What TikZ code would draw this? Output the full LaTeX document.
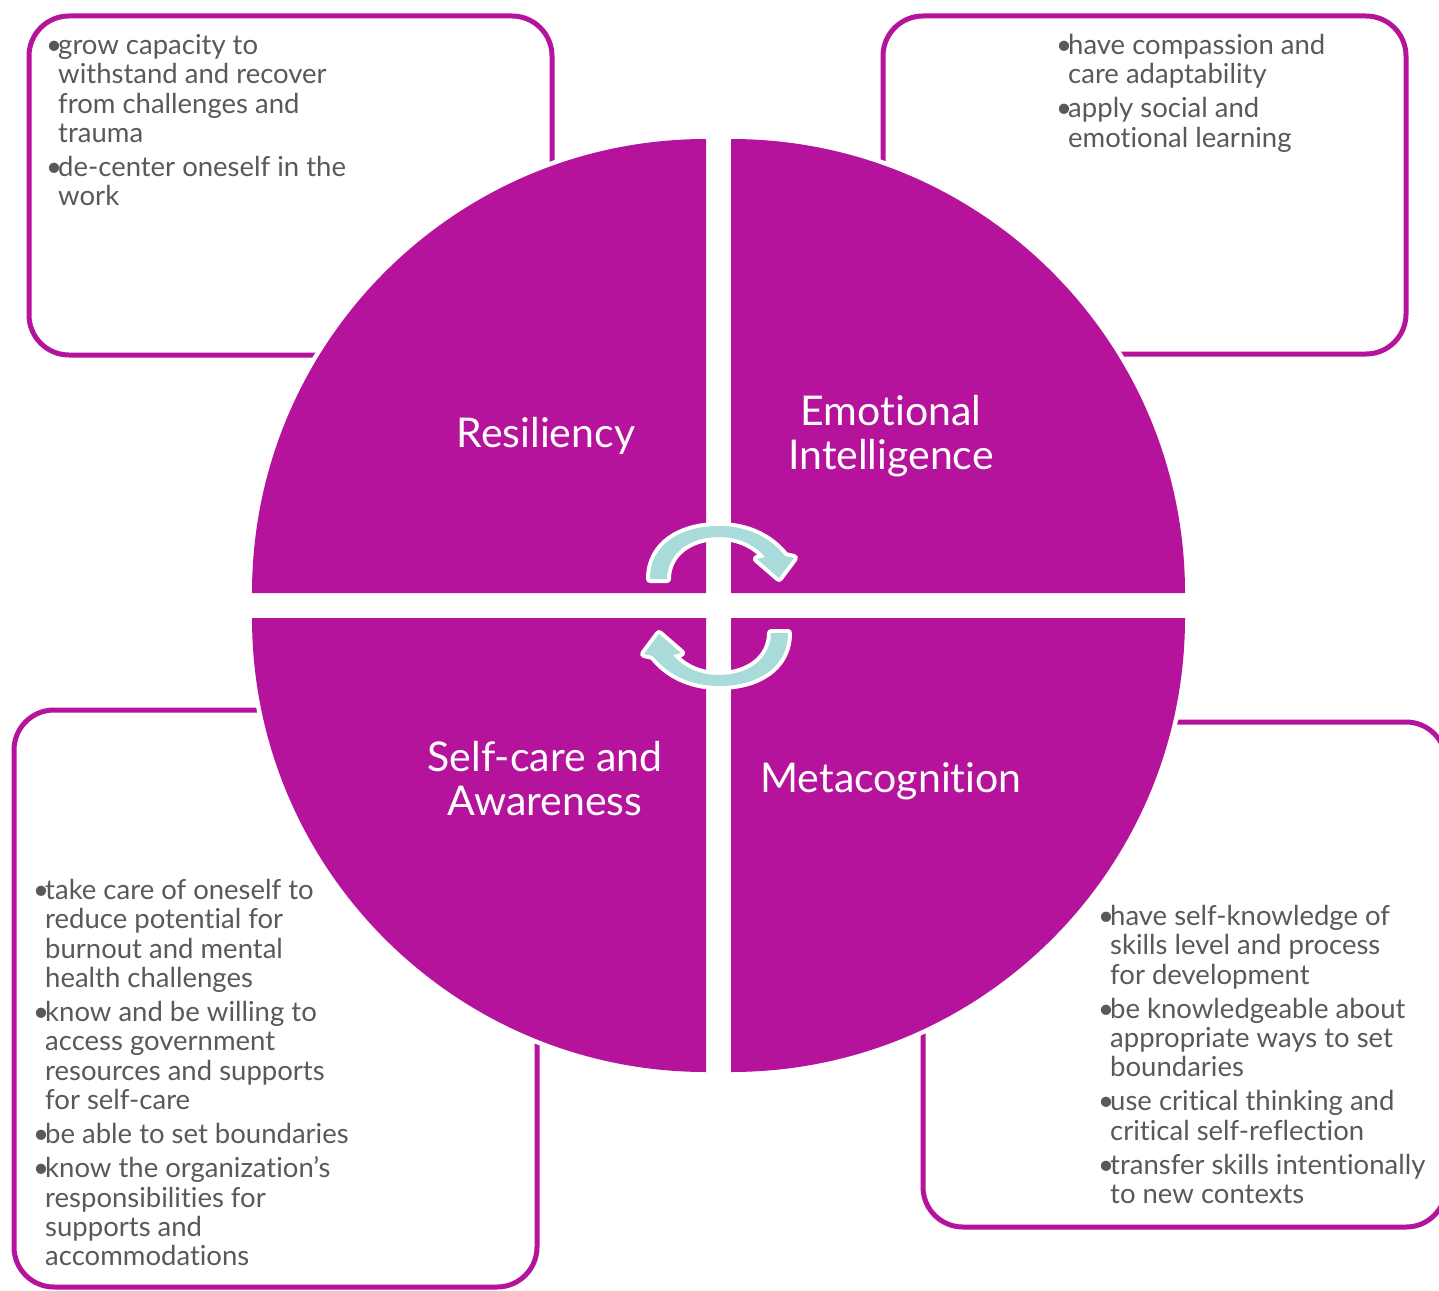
\documentclass[tikz,border=0pt]{standalone}
\usepackage{fontspec}
\setmainfont{Lato}[Ligatures=NoCommon]
\definecolor{petal}{RGB}{181,19,155}
\definecolor{cycleteal}{RGB}{168,219,217}
\definecolor{bodygrey}{RGB}{89,89,89}
\newcommand{\bul}{\makebox[12pt][l]{\textbullet}}
\newcommand{\ind}{\hspace*{12pt}}
\newlength{\itemgap}\setlength{\itemgap}{4.7pt}
\tikzset{
  infobox/.style={draw=petal, line width=5pt, rounded corners=40pt},
  quadcut/.style={draw=white, line width=9pt, fill=white},
  quadfill/.style={fill=petal},
  bodytext/.style={anchor=base west, inner sep=0pt, text=bodygrey,
    font=\fontsize{27.5}{29.3}\selectfont},
  quadlabel/.style={inner sep=0pt, text=white, align=center,
    font=\fontsize{41}{44}\selectfont},
  pics/cyclearrow/.style={code={
    \path[draw=white, line width=8pt, line join=round]
      (-69,-27) .. controls (-69,-62) and (-38,-80) .. (0,-80)
      .. controls (30,-80) and (53,-67) .. (66,-50)
      -- (75,-48) -- (60,-28) -- (38,-47) -- (46,-49)
      .. controls (36,-61) and (20,-69) .. (0,-69)
      .. controls (-30,-69) and (-52,-52) .. (-52,-27) -- cycle;
    \path[fill=cycleteal]
      (-69,-27) .. controls (-69,-62) and (-38,-80) .. (0,-80)
      .. controls (30,-80) and (53,-67) .. (66,-50)
      -- (75,-48) -- (60,-28) -- (38,-47) -- (46,-49)
      .. controls (36,-61) and (20,-69) .. (0,-69)
      .. controls (-30,-69) and (-52,-52) .. (-52,-27) -- cycle;
  }}
}
\begin{document}
\begin{tikzpicture}[x=1pt, y=-1pt]
\useasboundingbox[fill=white] (0,0) rectangle (1439,1290);

% outlined boxes behind the circle
\draw[infobox] (29,16) rectangle (552,355);
\draw[infobox] (883,16) rectangle (1406,354);
\draw[infobox] (14,710) rectangle (537,1287);
\draw[infobox] (923,722) rectangle (1446,1227);

% four quadrants, each with a white rim that breaks the box outlines
\foreach \cx/\cy/\a in {706/593/180, 731/593/270, 731/618/0, 706/618/90}{
  \path[quadcut] (\cx,\cy) -- ++(\a:454) arc[start angle=\a, delta angle=90, radius=454] -- cycle;
}
\foreach \cx/\cy/\a in {706/593/180, 731/593/270, 731/618/0, 706/618/90}{
  \path[quadfill] (\cx,\cy) -- ++(\a:454) arc[start angle=\a, delta angle=90, radius=454] -- cycle;
}

% cycle arrows in the middle
\pic at (719,606) {cyclearrow};
\pic[rotate=180] at (719,606) {cyclearrow};

% quadrant titles
\node[quadlabel] (resiliency) at (546,436) {Resiliency};
\node[quadlabel] (emotional) at (891,436) {Emotional\\Intelligence};
\node[quadlabel] (selfcare) at (545,779) {Self-care and\\Awareness};
\node[quadlabel] (metacog) at (891,781) {Metacognition};

% bullet lists
\node[bodytext] (resText) at (46,54.5) {\begin{tabular}[t]{@{}l@{}}
\bul grow capacity to\\
\ind withstand and recover\\
\ind from challenges and\\
\ind trauma\\[\itemgap]
\bul de-center oneself in the\\
\ind work
\end{tabular}};

\node[bodytext] (emoText) at (1056,54.5) {\begin{tabular}[t]{@{}l@{}}
\bul have compassion and\\
\ind care adaptability\\[\itemgap]
\bul apply social and\\
\ind emotional learning
\end{tabular}};

\node[bodytext] (selfText) at (33,899.5) {\begin{tabular}[t]{@{}l@{}}
\bul take care of oneself to\\
\ind reduce potential for\\
\ind burnout and mental\\
\ind health challenges\\[\itemgap]
\bul know and be willing to\\
\ind access government\\
\ind resources and supports\\
\ind for self-care\\[\itemgap]
\bul be able to set boundaries\\[\itemgap]
\bul know the organization’s\\
\ind responsibilities for\\
\ind supports and\\
\ind accommodations
\end{tabular}};

\node[bodytext] (metaText) at (1098,925.5) {\begin{tabular}[t]{@{}l@{}}
\bul have self-knowledge of\\
\ind skills level and process\\
\ind for development\\[\itemgap]
\bul be knowledgeable about\\
\ind appropriate ways to set\\
\ind boundaries\\[\itemgap]
\bul use critical thinking and\\
\ind critical self-reflection\\[\itemgap]
\bul transfer skills intentionally\\
\ind to new contexts
\end{tabular}};
\end{tikzpicture}
\end{document}
